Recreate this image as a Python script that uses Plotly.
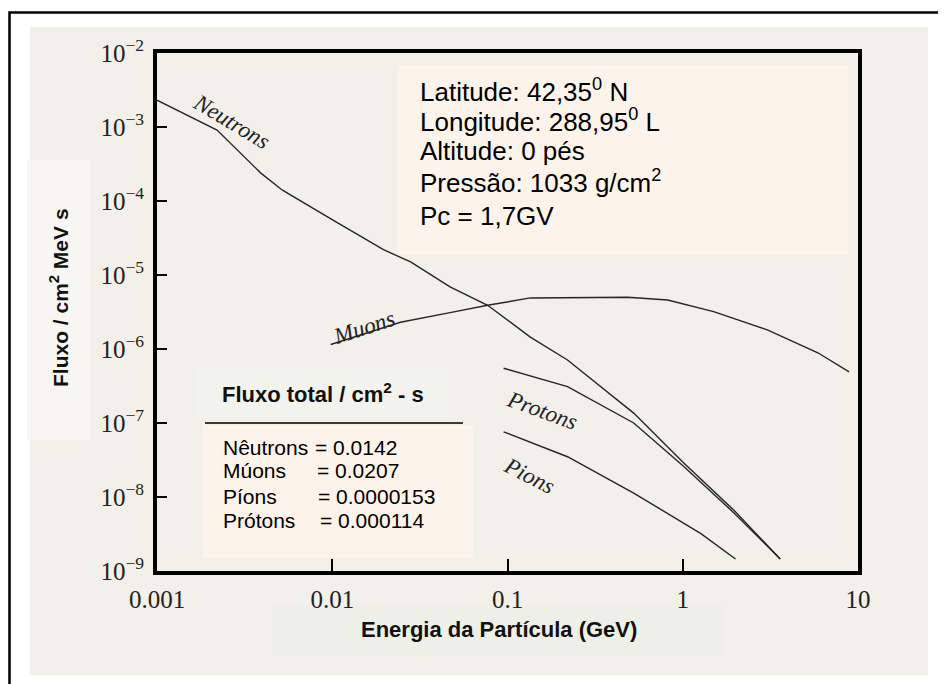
import plotly.graph_objects as go

# ---------------- data ----------------
neutron_e = [0.001, 0.0022, 0.0039, 0.0052, 0.0101, 0.0196, 0.028, 0.047, 0.077, 0.135, 0.22, 0.525, 1.01, 1.96, 3.6]
neutron_f = [2.3e-3, 9.1e-4, 2.4e-4, 1.4e-4, 5.5e-5, 2.2e-5, 1.5e-5, 6.9e-6, 3.9e-6, 1.45e-6, 7.1e-7, 1.36e-7, 2.9e-8, 6.6e-9, 1.45e-9]

muon_e = [0.0098, 0.0245, 0.047, 0.077, 0.135, 0.22, 0.485, 0.82, 1.5, 3.06, 5.9, 8.9]
muon_f = [1.15e-6, 2.3e-6, 3.1e-6, 3.9e-6, 4.9e-6, 4.95e-6, 5.0e-6, 4.6e-6, 3.2e-6, 1.8e-6, 8.9e-7, 4.9e-7]

proton_e = [0.095, 0.22, 0.525, 1.01, 1.96, 3.6]
proton_f = [5.5e-7, 3.1e-7, 1.0e-7, 2.6e-8, 6.1e-9, 1.45e-9]

pion_e = [0.095, 0.22, 0.525, 1.27, 2.0]
pion_f = [7.6e-8, 3.5e-8, 1.13e-8, 3.2e-9, 1.45e-9]

x_tickvals = [0.001, 0.01, 0.1, 1, 10]
x_ticktext = ["0.001", "0.01", "0.1", "1", "10"]
y_tickvals = [1e-9, 1e-8, 1e-7, 1e-6, 1e-5, 1e-4, 1e-3, 1e-2]
y_ticktext = ["10<sup>\u22129</sup>", "10<sup>\u22128</sup>", "10<sup>\u22127</sup>", "10<sup>\u22126</sup>",
              "10<sup>\u22125</sup>", "10<sup>\u22124</sup>", "10<sup>\u22123</sup>", "10<sup>\u22122</sup>"]

info_lines = ["Latitude: 42,35<sup>0</sup> N", "Longitude: 288,95<sup>0</sup> L", "Altitude: 0 p\u00e9s",
              "Press\u00e3o: 1033 g/cm<sup>2</sup>", "Pc = 1,7GV"]

flux_title = "<b>Fluxo total / cm<sup>2</sup> - s</b>"
flux_names = ["N\u00eautrons", "M\u00faons", "P\u00edons", "Pr\u00f3tons"]
flux_values = ["0.0142", "0.0207", "0.0000153", "0.000114"]

curve_labels = ["Neutrons", "Muons", "Protons", "Pions"]

x_title = "<b>Energia da Part\u00edcula (GeV)</b>"
y_title = "<b>Fluxo / cm<sup>2</sup> MeV s</b>"

# ---------------- layout geometry (page pixel coordinates) ----------------
PAGE_W, PAGE_H = 946, 684
OFF = 8                     # default body margin of the page
W, H = PAGE_W - OFF, PAGE_H - OFF
L_, T_, R_, B_ = 157, 53, 858, 571   # plot area in page pixels


def px(X):
    return (X - L_) / (R_ - L_)


def py(Y):
    return (B_ - Y) / (B_ - T_)


SANS = "Liberation Sans, Arial, sans-serif"
SERIF = "Liberation Serif, Times New Roman, serif"
LINE = "#262626"

fig = go.Figure()
for e, f in [(neutron_e, neutron_f), (muon_e, muon_f), (proton_e, proton_f), (pion_e, pion_f)]:
    fig.add_trace(go.Scatter(x=e, y=f, mode="lines", line=dict(color=LINE, width=1.4),
                             showlegend=False, hoverinfo="skip"))

shapes = []


def rect(x0, y0, x1, y1, fill, layer="below"):
    shapes.append(dict(type="rect", xref="paper", yref="paper", x0=px(x0), x1=px(x1), y0=py(y1), y1=py(y0),
                       fillcolor=fill, layer=layer, line=dict(width=0)))


# backgrounds
rect(30, 27, 928, 675, "#f3efe9")
rect(27, 160, 90, 440, "#f7f6f2")          # y title box
rect(272, 605, 724, 655, "#eeefe7")        # x title box
rect(398, 65, 848, 255, "#fcf3ea")         # info box
rect(197, 368, 447, 417, "#f3f3ee")        # flux title box
rect(203, 425, 473, 558, "#fcf3ea")        # flux values box
# line under flux title
shapes.append(dict(type="line", xref="paper", yref="paper", x0=px(205), x1=px(463), y0=py(423), y1=py(423),
                   line=dict(color="black", width=1.6), layer="above"))
# outer border
shapes.append(dict(type="rect", xref="paper", yref="paper", x0=px(9.5), x1=px(944), y0=py(700), y1=py(12.5),
                   line=dict(color="black", width=2.5), fillcolor="rgba(0,0,0,0)", layer="above"))

ann = []
# info box text
info_y = [91, 121, 151, 182, 216]
for t, yy in zip(info_lines, info_y):
    ann.append(dict(text=t, x=px(418), y=py(yy), xref="paper", yref="paper", xanchor="left", yanchor="middle",
                    showarrow=False, font=dict(family=SANS, size=26, color="black")))

# flux box text
ann.append(dict(text=flux_title, x=px(220), y=py(393), xref="paper", yref="paper", xanchor="left",
                yanchor="middle", showarrow=False, font=dict(family=SANS, size=22, color="#111111")))
row_y = [447, 471, 496, 520]
for i, (n, v) in enumerate(zip(flux_names, flux_values)):
    ann.append(dict(text=n, x=px(221), y=py(row_y[i]), xref="paper", yref="paper", xanchor="left",
                    yanchor="middle", showarrow=False, font=dict(family=SANS, size=21, color="black")))
    ann.append(dict(text="= " + v, x=px(313 + 1.7 * i), y=py(row_y[i]), xref="paper", yref="paper",
                    xanchor="left", yanchor="middle", showarrow=False,
                    font=dict(family=SANS, size=21, color="black")))

# curve labels
label_pos = [(231, 122, 31), (364, 327, -18), (542, 410, 20), (529, 475, 27)]
for t, (xx, yy, ang) in zip(curve_labels, label_pos):
    ann.append(dict(text="<i>" + t + "</i>", x=px(xx), y=py(yy), xref="paper", yref="paper",
                    xanchor="center", yanchor="middle", textangle=ang, showarrow=False,
                    font=dict(family=SERIF, size=23, color="#222222")))

# axis titles
ann.append(dict(text=x_title, x=px(499), y=py(630), xref="paper", yref="paper", xanchor="center",
                yanchor="middle", showarrow=False, font=dict(family=SANS, size=22, color="#111111")))
ann.append(dict(text=y_title, x=px(59), y=py(298), xref="paper", yref="paper", xanchor="center",
                yanchor="middle", textangle=-90, showarrow=False, font=dict(family=SANS, size=21, color="#111111")))

fig.update_layout(
    width=W, height=H,
    margin=dict(l=L_ - OFF, r=PAGE_W - R_, t=T_ - OFF, b=PAGE_H - B_, pad=0),
    paper_bgcolor="white", plot_bgcolor="rgba(0,0,0,0)",
    shapes=shapes, annotations=ann, showlegend=False,
    xaxis=dict(type="log", range=[-3, 1], tickvals=x_tickvals, ticktext=x_ticktext,
               ticks="inside", ticklen=12, tickwidth=2, tickcolor="black",
               showline=True, linewidth=4, linecolor="black", mirror=True,
               showgrid=False, zeroline=False, ticklabelstandoff=3,
               tickfont=dict(family=SERIF, size=25, color="#222222")),
    yaxis=dict(type="log", range=[-9, -2], tickvals=y_tickvals, ticktext=y_ticktext,
               ticks="inside", ticklen=10, tickwidth=2, tickcolor="black",
               showline=True, linewidth=4, linecolor="black", mirror=True,
               showgrid=False, zeroline=False, ticklabelstandoff=4,
               tickfont=dict(family=SERIF, size=25, color="#222222")),
)

fig.write_html("out.html")
